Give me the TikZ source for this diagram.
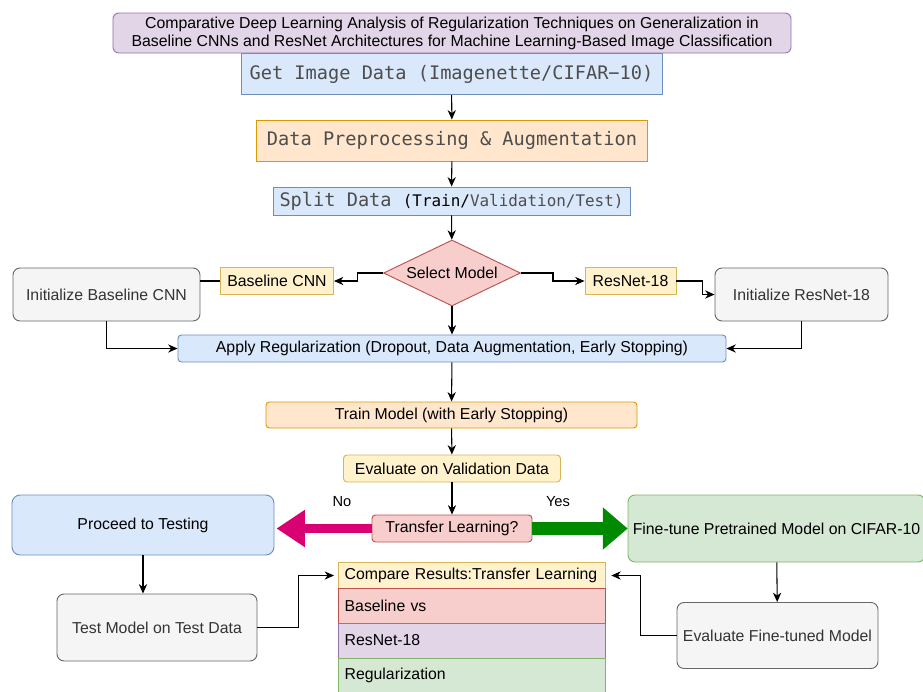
\documentclass[tikz,border=0pt]{standalone}
\usepackage{xcolor}
\usepackage{fontspec}
\setmainfont{Liberation Sans}
\setmonofont{DejaVu Sans Mono}
\usepackage{tikz}
\usetikzlibrary{shapes, arrows.meta, positioning}
\definecolor{blueFill}{HTML}{DAE8FC}
\definecolor{blueLine}{HTML}{6C8EBF}
\definecolor{orangeFill}{HTML}{FFE6CC}
\definecolor{orangeLine}{HTML}{D79B00}
\definecolor{yellowFill}{HTML}{FFF2CC}
\definecolor{yellowLine}{HTML}{D6B656}
\definecolor{redFill}{HTML}{F8CECC}
\definecolor{redLine}{HTML}{B85450}
\definecolor{grayFill}{HTML}{F5F5F5}
\definecolor{grayLine}{HTML}{666666}
\definecolor{grayText}{HTML}{333333}
\definecolor{greenFill}{HTML}{D5E8D4}
\definecolor{greenLine}{HTML}{82B366}
\definecolor{purpleFill}{HTML}{E1D5E7}
\definecolor{purpleLine}{HTML}{9673A6}
\definecolor{monoText}{HTML}{4D4D4D}
\definecolor{magArrow}{HTML}{D80073}
\definecolor{greenArrow}{HTML}{008A00}

\begin{document}
\begin{tikzpicture}
  [
    x=0.03cm, y=-0.03cm,
    Base/.style={draw, line width=0.8pt, inner sep=0pt, align=center, font=\fontsize{13.5}{15.5}\selectfont},
    Mono/.style={font=\ttfamily\fontsize{15.9}{18}\selectfont, text=monoText},
    Blue/.style={Base, draw=blueLine, fill=blueFill},
    Orange/.style={Base, draw=orangeLine, fill=orangeFill},
    Yellow/.style={Base, draw=yellowLine, fill=yellowFill},
    Red/.style={Base, draw=redLine, fill=redFill},
    Gray/.style={Base, draw=grayLine, fill=grayFill, text=grayText, rounded corners=6pt},
    Green/.style={Base, draw=greenLine, fill=greenFill, rounded corners=6pt},
    Purple/.style={Base, draw=purpleLine, fill=purpleFill, rounded corners=5pt},
    Row/.style={Base, text width=7.61cm, inner xsep=0.2cm, align=left, minimum height=1.05cm},
    Link/.style={-{Stealth[length=8pt, width=7pt, inset=2.5pt]}, draw, line width=0.9pt},
    Plain/.style={draw, line width=0.9pt},
    Label/.style={font=\fontsize{12.5}{14}\selectfont}
  ]
  \useasboundingbox (0,0) rectangle (923,691);
  % Nodes
  \node[Purple, minimum width=20.34cm, minimum height=1.2cm] (title) at(452, 33)
    {Comparative Deep Learning Analysis of Regularization Techniques on Generalization in\\
     Baseline CNNs and ResNet Architectures for Machine Learning-Based Image Classification};
  \node[Blue, Mono, minimum width=12.63cm, minimum height=1.23cm] (data) at(451.5, 74) {Get Image Data (Imagenette/CIFAR−10)};
  \node[Orange, Mono, minimum width=11.73cm, minimum height=1.23cm] (prep) at(452, 140.5) {Data Preprocessing \& Augmentation};
  \node[Blue, Mono, minimum width=10.71cm, minimum height=0.84cm] (split) at(451.5, 201)
    {Split Data {\fontsize{13.6}{16}\selectfont\textcolor{black}{(Train/}Validation/Test)}};
  \node[Red, diamond, aspect=2.07, minimum width=4.11cm, minimum height=1.98cm] (select) at(452, 273) {Select Model};
  \node[Yellow, minimum width=3.39cm, minimum height=0.81cm] (bcnn) at(277, 281) {Baseline CNN};
  \node[Yellow, minimum width=2.73cm, minimum height=0.81cm] (resnet) at(630.5, 281) {ResNet-18};
  \node[Gray, minimum width=5.61cm, minimum height=1.59cm] (initbase) at(106.5, 294.5) {Initialize Baseline CNN};
  \node[Gray, minimum width=5.19cm, minimum height=1.59cm] (initres) at(801.5, 294.5) {Initialize ResNet-18};
  \node[Blue, rounded corners=3pt, minimum width=16.44cm, minimum height=0.81cm] (reg) at(452, 348.5)
    {Apply Regularization (Dropout, Data Augmentation, Early Stopping)};
  \node[Orange, rounded corners=3pt, minimum width=11.13cm, minimum height=0.78cm] (train) at(451.5, 415) {Train Model (with Early Stopping)};
  \node[Yellow, rounded corners=3pt, minimum width=6.51cm, minimum height=0.81cm] (evalval) at(452, 468.5) {Evaluate on Validation Data};
  \node[Red, rounded corners=3pt, minimum width=4.8cm, minimum height=0.81cm] (transfer) at(452, 528.5) {Transfer Learning?};
  \node[Blue, rounded corners=7pt, minimum width=7.86cm, minimum height=1.8cm] (proceed) at(143, 525) {Proceed to Testing};
  \node[Green, minimum width=8.91cm, minimum height=2.01cm] (finetune) at(776.5, 528.5) {Fine-tune Pretrained Model on CIFAR-10};
  \node[Gray, minimum width=6.0cm, minimum height=2.01cm] (testmodel) at(157, 627.5) {Test Model on Test Data};
  \node[Gray, minimum width=6.03cm, minimum height=1.98cm] (evalft) at(777.5, 635.5) {Evaluate Fine-tuned Model};
  \node[Yellow, Row, minimum height=0.78cm] (compare) at(471.5, 575.5) {\mbox{Compare Results:Transfer Learning}};
  \node[Red, Row] (rowbase) at(471.5, 606) {Baseline vs};
  \node[Purple, Row, rounded corners=0pt] (rowres) at(471.5, 640.5) {ResNet-18};
  \node[Green, Row, rounded corners=0pt] (rowreg) at(471.5, 675.5) {Regularization};
  \node[Label] (no) at(342, 502) {No};
  \node[Label] (yes) at(558, 502) {Yes};
  % Lines
  \path [Link] (data) -- (prep);
  \path [Link] (prep) -- (split);
  \path [Link] (split) -- (select);
  \path [Link] (select.west) -- ++(-26, 0) |- (bcnn.east);
  \path [Link] (select.east) -- ++(32, 0) |- (resnet.west);
  \path [Plain] (bcnn.west) -- (bcnn.west -| initbase.east);
  \path [Link] (resnet.east) -- ++(26, 0) |- (initres.west);
  \path [Link] (initbase.south) |- (reg.west);
  \path [Link] (initres.south) |- (reg.east);
  \path [Link] (select) -- (reg);
  \path [Link] (reg) -- (train);
  \path [Link] (train) -- (evalval);
  \path [Link] (evalval) -- (transfer);
  \path [draw=magArrow, line width=8.5pt, -{Triangle[length=24pt, width=32pt, line width=0pt]}]
    (transfer.west) -- ([xshift=2pt]transfer.west -| proceed.east);
  \path [draw=greenArrow, line width=11pt, -{Triangle[length=21pt, width=36pt, line width=0pt]}]
    (transfer.east) -- (transfer.east -| finetune.west);
  \path [Link] (proceed.south) -- (proceed.south |- testmodel.north);
  \path [Link, shorten >=3pt] (testmodel.east) -- ++(41, 0) |- (compare.west);
  \path [Link] (finetune) -- (evalft);
  \path [Link, shorten >=5pt] (evalft.west) -- ++(-36, 0) |- (compare.east);
\end{tikzpicture}
\end{document}
